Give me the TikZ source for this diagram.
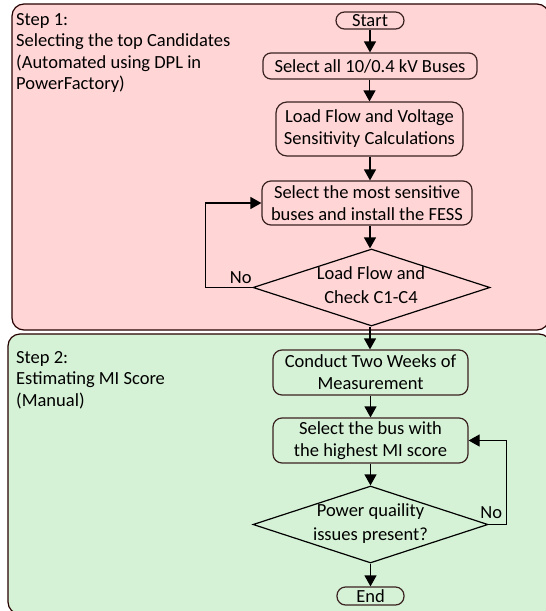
\documentclass[tikz,border=0pt]{standalone}
\usepackage{fontspec}
\setmainfont{Carlito}
\usetikzlibrary{arrows.meta,shapes.geometric}
\definecolor{pinkbg}{HTML}{FFD5D5}
\definecolor{greenbg}{HTML}{D6F2D6}
\definecolor{edge}{HTML}{3A2222}
\tikzset{
  region/.style={draw=black!85!red, line width=1.2pt, rounded corners=12pt},
  boxnode/.style={draw=edge, line width=1.2pt, rounded corners=9pt, align=center, inner sep=0pt, font=\fontsize{18.5}{22}\selectfont},
  termnode/.style={draw=edge, line width=1.2pt, rounded corners=8.5pt, inner sep=0pt, font=\fontsize{18.5}{20}\selectfont},
  dianode/.style={draw=black, line width=1.2pt, diamond, inner sep=0pt},
  txt/.style={align=center, inner sep=0pt, font=\fontsize{18.5}{24}\selectfont},
  steptxt/.style={align=left, anchor=north west, inner sep=0pt, font=\fontsize{18.5}{21.5}\selectfont},
  arr/.style={line width=1.2pt, -{Triangle[width=12pt,length=11pt]}},
  lbl/.style={inner sep=1pt, font=\fontsize{18.5}{20}\selectfont}
}
\begin{document}
\begin{tikzpicture}[x=1pt,y=-1pt]
\useasboundingbox (0,0) rectangle (546,611);
% regions
\path[region, fill=pinkbg] (12,4) rectangle (549,330);
\path[region, fill=greenbg] (8,334) rectangle (551,614);
\node[steptxt] (s1) at (16,13) {Step 1:\\Selecting the top Candidates\\(Automated using DPL in\\PowerFactory)};
\node[steptxt] (s2) at (16,351) {Step 2:\\Estimating MI Score\\(Manual)};
% nodes
\node[termnode, minimum width=68pt, minimum height=17pt] (start) at (370,20.5) {Start};
\node[boxnode, minimum width=214pt, minimum height=26pt, rounded corners=8pt] (sel) at (370,66) {Select all 10/0.4 kV Buses};
\node[boxnode, minimum width=187pt, minimum height=54pt, rounded corners=11pt] (lf) at (369.5,129) {Load Flow and Voltage\\Sensitivity Calculations};
\node[boxnode, minimum width=210pt, minimum height=44pt] (most) at (367,203) {Select the most sensitive\\buses and install the FESS};
\node[dianode, minimum width=237pt, minimum height=77pt] (d1) at (371.5,287.5) {};
\node[txt] (d1t) at (371,285) {Load Flow and\\Check C1-C4};
\node[boxnode, minimum width=195pt, minimum height=45pt] (meas) at (370.5,372.5) {Conduct Two Weeks of\\Measurement};
\node[boxnode, minimum width=195pt, minimum height=45pt] (bus) at (370.5,440.5) {Select the bus with\\the highest MI score};
\node[dianode, minimum width=235pt, minimum height=77pt] (d2) at (370.5,524.5) {};
\node[txt] (d2t) at (370.5,524) {Power quaility\\issues present?};
\node[termnode, minimum width=67pt, minimum height=18pt] (end) at (370.5,596) {End};
% connectors
\draw[arr] (start.south) -- (start.south |- sel.north);
\draw[arr] (sel.south -| lf.north) -- (lf.north);
\draw[arr] (lf.south -| 370,0) -- (370,0 |- most.north);
\draw[arr] (370,0 |- most.south) -- (370,0 |- d1.north);
\draw[arr] (370,0 |- d1.south) -- (370,0 |- meas.north);
\draw[arr] (370.5,0 |- meas.south) -- (370.5,0 |- bus.north);
\draw[arr] (bus.south) -- (d2.north);
\draw[arr] (d2.south) -- (end.north);
\draw[arr] (d1.west) -- node[lbl, pos=0.25, above=2pt] {No} ++(-47,0) |- (most.west);
\draw[arr] (d2.east) -- node[lbl, pos=0.15, above=4pt] {No} ++(18,0) |- (bus.east);
\end{tikzpicture}
\end{document}
